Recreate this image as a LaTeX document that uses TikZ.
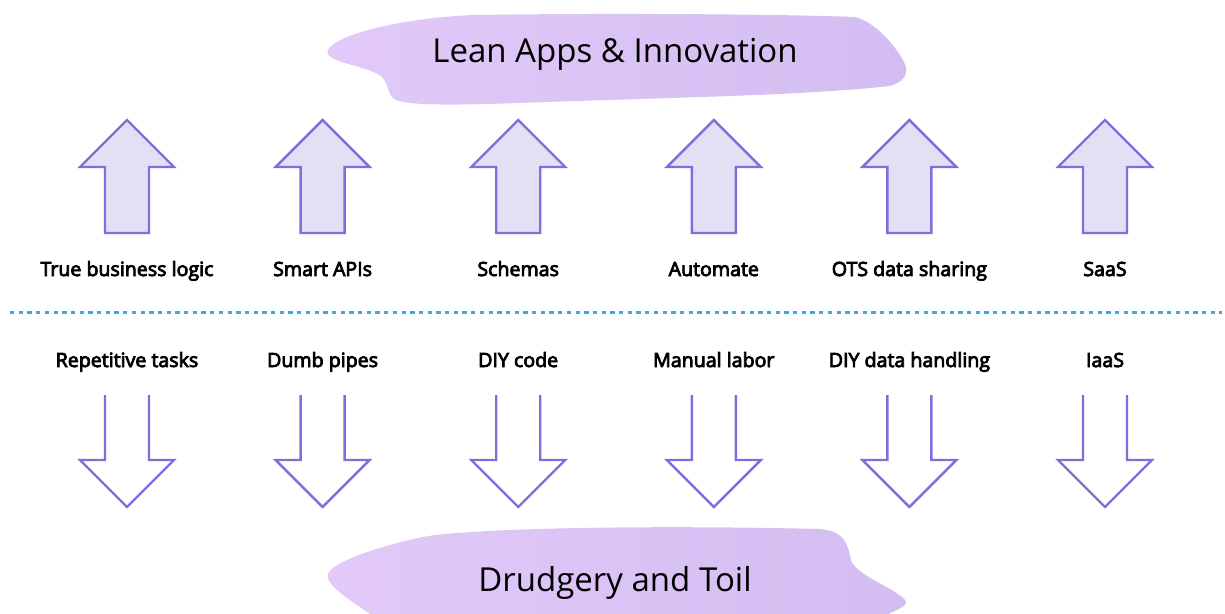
\documentclass[tikz,border=0pt]{standalone}
\usepackage{fontspec}
\setmainfont{Open Sans}
\definecolor{arrline}{HTML}{7E70DC}
\definecolor{arrfill}{HTML}{E3E0F5}
\definecolor{blobA}{HTML}{E2C9FA}
\definecolor{blobB}{HTML}{D3BDF0}
\definecolor{dotblue}{HTML}{3AAAF0}
\newcommand\semib[1]{\special{pdf:literal direct 2 Tr 0.8 w}#1\special{pdf:literal direct 0 Tr}}
\begin{document}
\begin{tikzpicture}[x=1pt,y=-1pt,
  arr/.style={draw=arrline,line width=2.4pt,line join=miter},
  lbl/.style={font=\fontsize{19.6}{22}\selectfont,text=black,inner sep=0pt,anchor=base},
  title/.style={font=\fontsize{33}{39}\selectfont,text=black,inner sep=0pt,anchor=base},
  blob/.style={left color=blobA,right color=blobB,draw=none}]
\useasboundingbox (0,0) rectangle (1225,613);
% top blob
\path[blob] (328,50) .. controls (335,35) and (400,18) .. (474,15)
  .. controls (600,13) and (780,14) .. (855,17)
  .. controls (875,22) and (895,45) .. (904,62)
  .. controls (910,75) and (903,82) .. (890,86)
  .. controls (800,96) and (650,98) .. (520,103)
  .. controls (460,105) and (410,106) .. (396,100)
  .. controls (386,95) and (390,84) .. (381,76)
  .. controls (365,65) and (322,62) .. (328,50) -- cycle;
\node[title] (top) at (615,62) {Lean Apps \& Innovation};
% bottom blob
\path[blob] (370,614) .. controls (350,600) and (325,585) .. (328,574)
  .. controls (332,560) and (400,540) .. (435,535)
  .. controls (520,526) and (700,526) .. (820,529)
  .. controls (845,531) and (848,545) .. (851,560)
  .. controls (855,575) and (895,588) .. (905,600)
  .. controls (910,606) and (895,610) .. (889,614) -- cycle;
\node[title] (bot) at (615,591) {Drudgery and Toil};
% divider
\coordinate (dl) at (10,312);
\coordinate (dr) at (1222,312);
\draw[dotblue,line width=3pt,dash pattern=on 4.3pt off 4.4pt] (dl) -- (dr);
% arrows
\foreach \i/\up/\dn in {0/True business logic/Repetitive tasks,1/Smart APIs/Dumb pipes,2/Schemas/DIY code,3/Automate/Manual labor,4/OTS data sharing/DIY data handling,5/SaaS/IaaS}{
  \pgfmathsetmacro\cx{127+195.6*\i}
  \draw[arr,fill=arrfill] ({\cx-47},167) -- (\cx,120) -- ({\cx+47},167) -- ({\cx+22},167)
     -- ({\cx+22},233) -- ({\cx-22},233) -- ({\cx-22},167) -- cycle;
  \draw[arr] ({\cx-22},395) -- ({\cx-22},460) -- ({\cx-47},460) -- (\cx,507)
     -- ({\cx+47},460) -- ({\cx+22},460) -- ({\cx+22},395);
  \node[lbl] (up\i) at (\cx,276) {\semib{\up}};
  \node[lbl] (dn\i) at (\cx,367) {\semib{\dn}};
}
\end{tikzpicture}
\end{document}
